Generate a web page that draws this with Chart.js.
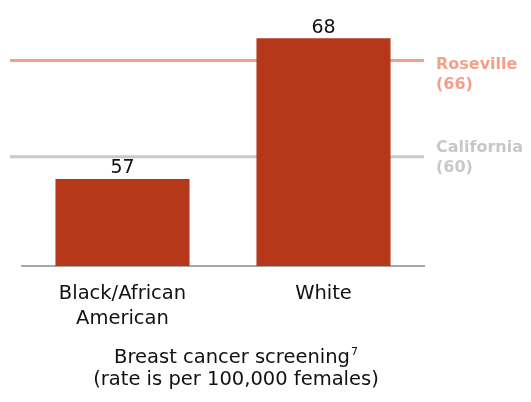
<!DOCTYPE html>
<html lang="en">
<head>
<meta charset="UTF-8">
<script src="https://cdn.jsdelivr.net/npm/chart.js"></script>
<title>Breast cancer screening</title>
<style>
    html, body { margin: 0; padding: 0; background: #fff; }
    #wrap { width: 531px; height: 402px; }
</style>
</head>
<body>
<div id="wrap"><canvas id="myChart"></canvas></div>
<script>
    // data
    const categories = [['Black/African', 'American'], 'White'];
    const rates = [57, 68];
    const refNames = ['Roseville', 'California'];
    const refValues = [66, 60];
    const refColors = ['#F4A089', '#C8C8C8'];

    const FONT = "'DejaVu Sans', Verdana, sans-serif";

    // horizontal reference lines (behind the bars) + their labels on the right
    const refLines = {
        id: 'refLines',
        beforeDatasetsDraw(chart) {
            const ctx = chart.ctx;
            const y = chart.scales.yRef;
            const area = chart.chartArea;
            ctx.save();
            refValues.forEach((v, i) => {
                const py = y.getPixelForValue(v);
                ctx.strokeStyle = refColors[i];
                ctx.lineWidth = 3;
                ctx.beginPath();
                ctx.moveTo(area.left - 12, py);
                ctx.lineTo(area.right, py);
                ctx.stroke();
                ctx.fillStyle = refColors[i];
                ctx.font = 'bold 16px ' + FONT;
                ctx.textAlign = 'left';
                ctx.textBaseline = 'middle';
                const off = i === 0 ? 4 : -9;
                ctx.fillText(refNames[i], area.right + 12, py + off);
                ctx.fillText('(' + v + ')', area.right + 12, py + off + 20);
            });
            ctx.restore();
        }
    };

    // bar value labels and the caption under the chart
    const labelsAndCaption = {
        id: 'labelsAndCaption',
        afterDraw(chart) {
            const ctx = chart.ctx;
            ctx.save();
            ctx.fillStyle = '#111';
            ctx.font = '19px ' + FONT;
            ctx.textAlign = 'center';
            ctx.textBaseline = 'bottom';
            chart.getDatasetMeta(0).data.forEach((bar, i) => {
                ctx.fillText(rates[i], bar.x, bar.y - 1);
            });

            ctx.textBaseline = 'middle';
            ctx.font = '19.5px ' + FONT;
            const cx = 236;
            const t1 = 'Breast cancer screening';
            const w1 = ctx.measureText(t1).width;
            ctx.textAlign = 'left';
            ctx.fillText(t1, cx - (w1 + 8) / 2, 358);
            ctx.font = '11px ' + FONT;
            ctx.fillText('7', cx - (w1 + 8) / 2 + w1 + 1, 352);
            ctx.font = '19.5px ' + FONT;
            ctx.textAlign = 'center';
            ctx.fillText('(rate is per 100,000 females)', cx, 380);
            ctx.restore();
        }
    };

    const data = {
        labels: categories,
        datasets: [{
            label: 'Rate',
            data: rates,
            backgroundColor: '#B5381A',
            barPercentage: 0.667,
            categoryPercentage: 1.0,
            yAxisID: 'y'
        }]
    };

    const config = {
        type: 'bar',
        data: data,
        options: {
            responsive: true,
            maintainAspectRatio: false,
            animation: false,
            layout: { padding: { left: 22, right: 107, top: 10, bottom: 0 } },
            plugins: {
                legend: { display: false },
                tooltip: { enabled: false },
                title: { display: false }
            },
            scales: {
                x: {
                    grid: { display: false, drawTicks: false },
                    border: { display: true, color: '#A6A6A6', width: 2 },
                    ticks: {
                        color: '#111',
                        font: { family: FONT, size: 19.5, lineHeight: 1.28 },
                        maxRotation: 0,
                        padding: 15
                    },
                    afterFit(scale) { scale.height = 136; }
                },
                y: {
                    display: false,
                    min: 50.2,
                    max: 70.2
                },
                yRef: {
                    display: false,
                    min: 53.2,
                    max: 69.15
                }
            }
        },
        plugins: [refLines, labelsAndCaption]
    };

    const myChart = new Chart(document.getElementById('myChart'), config);
</script>
</body>
</html>
